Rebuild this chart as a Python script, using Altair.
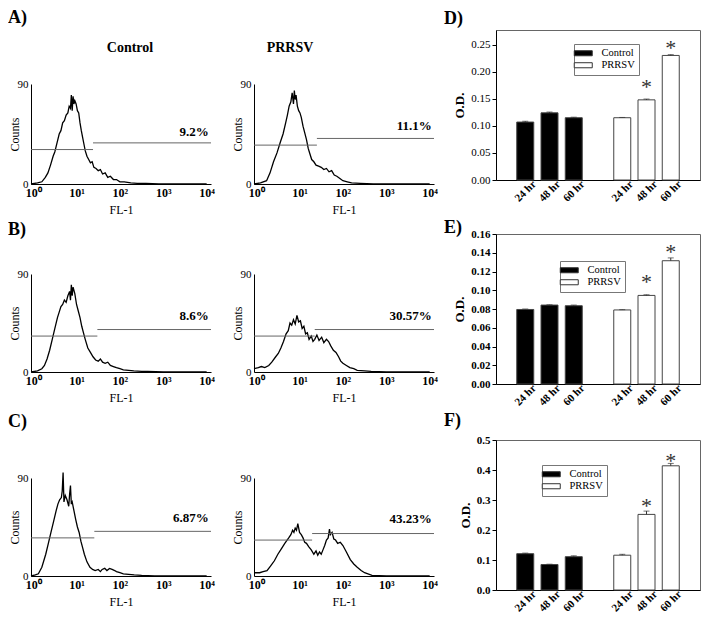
import json
import altair as alt
import pandas as pd

FONT = "Liberation Serif"

# ---------------- flow cytometry histograms (x = log10 decade of FL-1, y = counts) ----------------
A_CTRL_X = [-0.05, 0.1, 0.2, 0.28, 0.34, 0.4, 0.46, 0.5, 0.55, 0.6, 0.64, 0.68, 0.72, 0.76, 0.8, 0.83, 0.86, 0.88,
            0.9, 0.92, 0.94, 0.96, 0.99, 1.02, 1.05, 1.08, 1.11, 1.14, 1.17, 1.2, 1.24, 1.28, 1.32, 1.36, 1.4, 1.45,
            1.5, 1.55, 1.6, 1.66, 1.72, 1.78, 1.85, 1.92, 2.0, 2.1, 2.25, 2.4, 2.6, 2.9, 3.3, 4.0]
A_CTRL_Y = [0, 1, 2, 6, 10, 17, 25, 29, 37, 45, 48, 55, 57, 62, 64, 70, 68, 80,
            66, 79, 72, 75, 72, 66, 64, 55, 48, 42, 36, 30, 25, 22, 19, 20, 15, 14,
            12, 13, 9, 10, 6, 7, 4, 4, 2, 2, 1, 0.5, 0.5, 0, 0, 0]

A_PRR_X = [-0.05, 0.1, 0.24, 0.32, 0.4, 0.48, 0.56, 0.62, 0.68, 0.72, 0.76, 0.8, 0.83, 0.86, 0.88, 0.9, 0.92, 0.95,
           0.98, 1.01, 1.04, 1.08, 1.12, 1.16, 1.2, 1.24, 1.28, 1.33, 1.38, 1.44, 1.5, 1.56, 1.62, 1.68, 1.74, 1.8,
           1.86, 1.93, 2.0, 2.1, 2.2, 2.4, 2.7, 3.2, 4.0]
A_PRR_Y = [0, 1, 3, 10, 20, 28, 38, 45, 55, 62, 70, 74, 82, 72, 84, 76, 80, 70,
           66, 64, 60, 52, 46, 40, 32, 27, 22, 20, 17, 16, 15, 13, 14, 11, 12, 8,
           7, 5, 3, 2, 1, 0.5, 0, 0, 0]

B_CTRL_X = [-0.05, 0.1, 0.2, 0.26, 0.32, 0.38, 0.44, 0.5, 0.56, 0.6, 0.64, 0.68, 0.72, 0.76, 0.8, 0.84, 0.86, 0.88,
            0.9, 0.92, 0.96, 1.0, 1.04, 1.08, 1.12, 1.16, 1.2, 1.26, 1.32, 1.38, 1.44, 1.5, 1.55, 1.6, 1.66, 1.72,
            1.78, 1.85, 1.92, 2.0, 2.08, 2.2, 2.32, 2.5, 2.64, 3.0, 4.0]
B_CTRL_Y = [0, 1, 3, 6, 12, 20, 30, 40, 50, 55, 60, 62, 66, 64, 70, 74, 66, 80,
            70, 78, 72, 62, 56, 50, 42, 36, 30, 22, 18, 14, 11, 10, 12, 9, 8, 9,
            6, 5, 4, 3, 2, 1.5, 1, 0.5, 0.5, 0, 0]

B_PRR_X = [-0.05, 0.05, 0.12, 0.2, 0.29, 0.36, 0.45, 0.51, 0.57, 0.63, 0.69, 0.74, 0.78, 0.82, 0.86, 0.9, 0.94, 0.98,
           1.02, 1.06, 1.1, 1.14, 1.18, 1.22, 1.27, 1.31, 1.35, 1.4, 1.45, 1.51, 1.56, 1.62, 1.67, 1.72, 1.78, 1.84,
           1.9, 1.95, 2.0, 2.08, 2.16, 2.25, 2.33, 2.5, 2.65, 3.0, 4.0]
B_PRR_Y = [3, 4, 5, 4, 6, 9, 14, 17, 22, 28, 35, 38, 45, 43, 48, 44, 52, 46,
           47, 40, 42, 35, 36, 30, 33, 28, 30, 34, 29, 32, 27, 30, 28, 24, 20, 18,
           14, 10, 8, 6, 4, 3, 1.5, 1, 0.5, 0, 0]

C_CTRL_X = [-0.05, 0.05, 0.12, 0.2, 0.29, 0.35, 0.41, 0.47, 0.53, 0.57, 0.61, 0.65, 0.67, 0.69, 0.71, 0.74, 0.78, 0.82,
            0.84, 0.86, 0.88, 0.9, 0.94, 0.98, 1.02, 1.06, 1.1, 1.14, 1.18, 1.24, 1.31, 1.37, 1.43, 1.5, 1.55, 1.59,
            1.65, 1.7, 1.76, 1.82, 1.88, 1.92, 2.0, 2.08, 2.2, 2.33, 2.5, 2.8, 4.0]
C_CTRL_Y = [0, 1, 2, 8, 20, 30, 40, 50, 60, 66, 70, 72, 78, 95, 68, 74, 70, 64,
            75, 83, 66, 68, 60, 52, 45, 40, 32, 26, 20, 13, 8, 6, 5, 6, 4, 6,
            7, 5, 7, 6, 5, 4, 3, 2, 1.5, 1, 0.5, 0, 0]

C_PRR_X = [-0.05, 0.08, 0.16, 0.25, 0.33, 0.42, 0.5, 0.58, 0.66, 0.75, 0.8, 0.84, 0.87, 0.9, 0.93, 0.96, 1.0, 1.04,
           1.08, 1.12, 1.16, 1.21, 1.27, 1.33, 1.38, 1.42, 1.46, 1.5, 1.54, 1.58, 1.62, 1.66, 1.69, 1.71, 1.75, 1.79,
           1.83, 1.88, 1.94, 2.0, 2.08, 2.17, 2.25, 2.33, 2.42, 2.5, 2.67, 3.0, 4.0]
C_PRR_Y = [3, 3, 4, 5, 9, 14, 20, 25, 30, 35, 38, 42, 40, 44, 42, 48, 40, 38,
           35, 31, 30, 27, 24, 20, 23, 19, 22, 20, 24, 28, 33, 35, 43, 38, 40, 34,
           33, 30, 31, 28, 22, 15, 11, 8, 5, 3, 0.5, 0, 0]

# marker gates: split point (decade), lower-gate count level, upper-gate count level
GATE_X = [1.38, 1.40, 1.48, 1.35, 1.41, 1.29]
GATE_LO = [31, 35, 33, 33, 35, 33]
GATE_HI = [37, 41, 39, 39, 41, 39]
PCT_TEXT = ["9.2%", "11.1%", "8.6%", "30.57%", "6.87%", "43.23%"]
PCT_Y = [47, 52, 51, 51, 53, 52]
PCT_X = 4.05
DECADE_LABELS = ["10\u2070", "10\u00b9", "10\u00b2", "10\u00b3", "10\u2074"]
DECADES = [0, 1, 2, 3, 4]
X_DOM = [-0.05, 4.1]

# ---------------- MTT O.D. bar charts ----------------
BAR_POS = [0, 1, 2, 4, 5, 6]
BAR_GROUP = ["Control", "Control", "Control", "PRRSV", "PRRSV", "PRRSV"]
BAR_TIME = ["24 hr", "48 hr", "60 hr", "24 hr", "48 hr", "60 hr"]
D_VALS = [0.107, 0.124, 0.115, 0.115, 0.148, 0.230]
D_ERR = [0.0015, 0.0015, 0.001, 0.0005, 0.0015, 0.0015]
D_STAR = [0.172, 0.244]
E_VALS = [0.0795, 0.0842, 0.0835, 0.0790, 0.0945, 0.1315]
E_ERR = [0.0005, 0.0003, 0.0007, 0.0003, 0.0007, 0.003]
E_STAR = [0.109, 0.1406]
F_VALS = [0.121, 0.085, 0.111, 0.116, 0.252, 0.414]
F_ERR = [0.002, 0.001, 0.003, 0.003, 0.011, 0.008]
F_STAR = [0.280, 0.429]
STAR_POS = [5, 6]

DEC_EXPR = json.dumps(dict(zip([str(d) for d in DECADES], DECADE_LABELS))) + "[datum.value]"
TIME_EXPR = json.dumps(dict(zip([str(p) for p in BAR_POS], BAR_TIME))) + "[datum.value]"

HW = 180
BW = 204
BH = 150


def spacer(x, y, align, baseline):
    return alt.Chart(pd.DataFrame({"s": ["."]})).mark_text(
        opacity=0, fontSize=1, align=align, baseline=baseline
    ).encode(x=alt.value(x), y=alt.value(y), text="s:N")


def header(w):
    return spacer(0, 0, "left", "top").properties(width=w, height=1)


def label_text(txt, x, y, size, weight="bold", align="left", baseline="top"):
    return alt.Chart(pd.DataFrame({"s": [txt]})).mark_text(
        font=FONT, fontSize=size, fontWeight=weight, align=align, baseline=baseline, color="black"
    ).encode(x=alt.value(x), y=alt.value(y), text="s:N")


def hist_panel(i, xs, ys, h, top_pad, bottom_pad, left_pad, right_pad, extras):
    xscale = alt.Scale(domain=X_DOM, nice=False, zero=False)
    yscale = alt.Scale(domain=[0, 90], nice=False)
    xaxis = alt.Axis(
        values=DECADES, labelExpr=DEC_EXPR, ticks=False, labelFontWeight="bold", labelFontSize=12,
        labelPadding=3, titleFontWeight="normal", titleFontSize=12, titlePadding=6, labelFlush=False,
        labelOverlap=False)
    yaxis = alt.Axis(
        values=[0, 90], ticks=False, labelPadding=3, labelFontSize=11, titleFontSize=12,
        titleFontWeight="normal", titleX=-10, labelOverlap=False)

    def X(f):
        return alt.X(f, scale=xscale, axis=xaxis, title="FL-1")

    def Y(f):
        return alt.Y(f, scale=yscale, axis=yaxis, title="Counts")

    curve = pd.DataFrame({"fl": xs, "counts": ys})
    line = alt.Chart(curve).mark_line(color="black", strokeWidth=1.3).encode(x=X("fl:Q"), y=Y("counts:Q"))
    gates = pd.DataFrame({"fl": [X_DOM[0], GATE_X[i]], "fl2": [GATE_X[i], X_DOM[1]],
                          "counts": [GATE_LO[i], GATE_HI[i]]})
    rules = alt.Chart(gates).mark_rule(color="#666", strokeWidth=1).encode(
        x=X("fl:Q"), x2="fl2:Q", y=Y("counts:Q"))
    pct = alt.Chart(pd.DataFrame({"fl": [PCT_X], "counts": [PCT_Y[i]], "t": [PCT_TEXT[i]]})).mark_text(
        font=FONT, fontSize=13, fontWeight="bold", align="right", baseline="middle", color="black"
    ).encode(x=X("fl:Q"), y=Y("counts:Q"), text="t:N")
    layers = [line, rules, pct,
              spacer(-left_pad, -top_pad, "left", "top"),
              spacer(HW + right_pad, h + bottom_pad, "right", "bottom")] + extras
    return alt.layer(*layers).properties(width=HW, height=h)


def bar_panel(vals, errs, stars, ydom, yticks, yfmt, ybold, leg_x, leg_y, letter, letter_y, top_pad, bottom_pad):
    df = pd.DataFrame({"pos": BAR_POS, "group": BAR_GROUP, "time": BAR_TIME, "od": vals,
                       "hi": [v + e for v, e in zip(vals, errs)]})
    xscale = alt.Scale(domain=[-1, 7], nice=False, zero=False)
    yscale = alt.Scale(domain=ydom, nice=False)
    xaxis = alt.Axis(
        values=BAR_POS, labelExpr=TIME_EXPR, labelAngle=-45, labelAlign="center", labelBaseline="middle",
        labelPadding=11, ticks=False, labelFontWeight="bold", labelFontSize=11, labelFlush=False,
        labelOverlap=False)
    yaxis = alt.Axis(
        values=yticks, format=yfmt, titleFontWeight="bold", titleFontSize=13, labelFontSize=11,
        labelFontWeight="bold" if ybold else "normal", tickSize=4, labelPadding=2, titlePadding=4,
        labelOverlap=False, labelFlush=False)

    def X(f):
        return alt.X(f, scale=xscale, axis=xaxis, title=None)

    def Y(f):
        return alt.Y(f, scale=yscale, axis=yaxis, title="O.D.")

    legend = alt.Legend(
        title=None, orient="none", legendX=leg_x, legendY=leg_y, direction="vertical",
        symbolType="M-2,-0.56H2V0.56H-2Z", symbolSize=81, symbolStrokeColor="#333", symbolStrokeWidth=1,
        labelFont=FONT, labelFontSize=10.5, labelColor="black", strokeColor="#777", fillColor="white",
        padding=4, rowPadding=1, labelOffset=13)
    bars = alt.Chart(df).mark_bar(size=17, stroke="#444", strokeWidth=1).encode(
        x=X("pos:Q"), y=Y("od:Q"),
        color=alt.Color("group:N", scale=alt.Scale(domain=["Control", "PRRSV"], range=["black", "white"]),
                        legend=legend))
    err = alt.Chart(df).mark_rule(color="#333", strokeWidth=1).encode(
        x=X("pos:Q"), y=Y("od:Q"), y2="hi:Q")
    caps = alt.Chart(df).mark_tick(orient="horizontal", size=6, thickness=1, color="#333").encode(
        x=X("pos:Q"), y=Y("hi:Q"))
    star = alt.Chart(pd.DataFrame({"pos": STAR_POS, "od": stars, "s": ["*", "*"]})).mark_text(
        font=FONT, fontSize=22, color="#333", baseline="middle"
    ).encode(x=X("pos:Q"), y=Y("od:Q"), text="s:N")
    layers = [bars, err, caps, star,
              label_text(letter, -52, -letter_y, 18),
              spacer(-52, -top_pad, "left", "top"),
              spacer(BW + 2, BH + bottom_pad, "right", "bottom")]
    return alt.layer(*layers).properties(width=BW, height=BH,
                                         view=alt.ViewBackground(stroke="#666", strokeWidth=1))


a_ctrl = hist_panel(0, A_CTRL_X, A_CTRL_Y, 100, 75, 36, 23, 20,
                    [label_text("A)", -23, -75, 18), label_text("Control", 99, -36, 14, align="center", baseline="middle")])
b_ctrl = hist_panel(2, B_CTRL_X, B_CTRL_Y, 98, 54, 36, 23, 20, [label_text("B)", -23, -53, 18)])
c_ctrl = hist_panel(4, C_CTRL_X, C_CTRL_Y, 98, 70, 34, 23, 20, [label_text("C)", -23, -65, 18)])

a_prr = hist_panel(1, A_PRR_X, A_PRR_Y, 100, 75, 36, 23, 9,
                   [label_text("PRRSV", 36, -36, 14, align="center", baseline="middle")])
b_prr = hist_panel(3, B_PRR_X, B_PRR_Y, 98, 54, 36, 23, 9, [])
c_prr = hist_panel(5, C_PRR_X, C_PRR_Y, 98, 70, 34, 23, 9, [])

d_bar = bar_panel(D_VALS, D_ERR, D_STAR, [0, 0.277], [0, 0.05, 0.10, 0.15, 0.20, 0.25], ".2f", False,
                  78, 14, "D)", 20, 19, 24)
e_bar = bar_panel(E_VALS, E_ERR, E_STAR, [0, 0.16], [0, 0.02, 0.04, 0.06, 0.08, 0.10, 0.12, 0.14, 0.16], ".2f", True,
                  64, 27, "E)", 15, 28, 24)
f_bar = bar_panel(F_VALS, F_ERR, F_STAR, [0, 0.5], [0, 0.1, 0.2, 0.3, 0.4, 0.5], ".1f", True,
                  46, 25, "F)", 28, 30, 24)

col1 = alt.vconcat(header(HW), a_ctrl, b_ctrl, c_ctrl, spacing=0)
col2 = alt.vconcat(header(HW), a_prr, b_prr, c_prr, spacing=0)
col3 = alt.vconcat(header(BW), d_bar, e_bar, f_bar, spacing=0).resolve_scale(
    color="independent").resolve_legend(color="independent")

chart = alt.hconcat(col1, col2, col3, spacing=0).resolve_scale(
    color="independent").resolve_legend(color="independent").properties(padding=0).configure_view(
    stroke=None
).configure_axis(
    labelFont=FONT, titleFont=FONT, labelColor="black", titleColor="black",
    domainColor="black", tickColor="black", grid=False
)

chart.save("out.html", embed_options={"renderer": "svg", "actions": False})
